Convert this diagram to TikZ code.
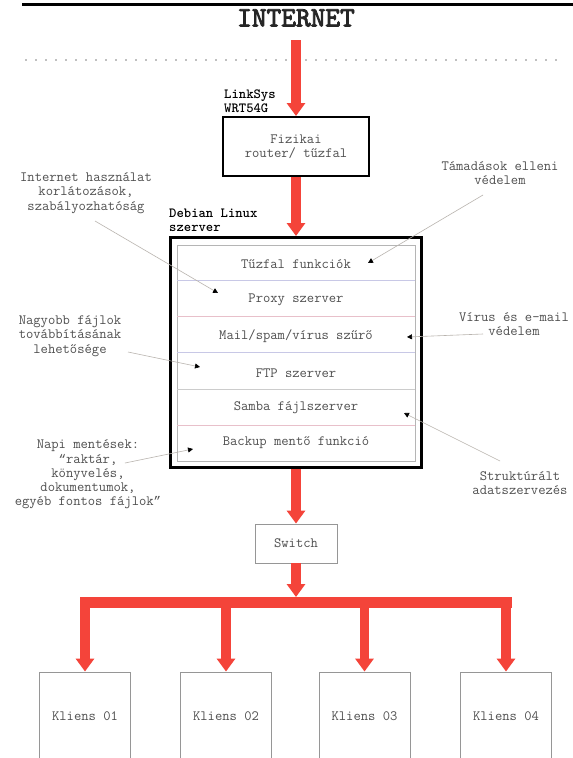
\documentclass[tikz,border=0pt]{standalone}
\usepackage{fontspec}
\newfontface\titlefont{lmmono10-regular.otf}[FakeBold=3]
\newfontfamily\qfont{Liberation Mono}
\usetikzlibrary{arrows.meta}
\definecolor{netred}{RGB}{244,68,58}
\definecolor{txtgray}{RGB}{80,80,80}
\definecolor{linegray}{RGB}{185,180,175}
\definecolor{sepblue}{RGB}{200,200,230}
\definecolor{seppink}{RGB}{232,192,202}
\definecolor{boxgray}{RGB}{150,150,150}
\newcommand{\oq}{{\qfont\fontsize{12.5}{14}\selectfont “}}
\newcommand{\cq}{{\qfont\fontsize{12.5}{14}\selectfont ”}}
\begin{document}
\begin{tikzpicture}[x=1pt,y=-1pt,
  redarrow/.style={draw=netred, line width=9.5pt, -{Triangle[length=13pt,width=18pt]}},
  redbus/.style={draw=netred, line width=11pt, line cap=rect},
  annot/.style={font=\ttfamily\fontsize{14.2}{14.5}\selectfont, text=txtgray, align=center, inner sep=0pt},
  boldlab/.style={font=\ttfamily\bfseries\fontsize{14}{14}\selectfont, text=black, align=left, inner sep=0pt},
  rowtext/.style={font=\ttfamily\fontsize{14.2}{14.5}\selectfont, text=txtgray, inner sep=0pt},
  note/.style={draw=linegray, line width=0.6pt, -{Triangle[length=5pt,width=5pt,color=black]}},
  kbox/.style={draw=boxgray, line width=0.9pt, minimum width=91pt, minimum height=88pt, rowtext},
]
\useasboundingbox (0,0) rectangle (573,758);
\clip (0,0) rectangle (573,758);
\fill[white] (0,0) rectangle (573,758);

% top rule
\draw[line width=3pt] (22,4.5) -- (573,4.5);

% title and dotted border
\node[font=\titlefont\fontsize{28}{28}\selectfont, text=black!85, inner sep=0pt] (internet) at (296,18) {INTERNET};
\draw[draw=gray, line width=1.8pt, line cap=round, dash pattern=on 0pt off 10pt] (26,60) -- (565,60);

% router
\node[boldlab, anchor=west] (linksys) at (224,101) {LinkSys\\WRT54G};
\node[draw=black, line width=2pt, minimum width=146pt, minimum height=59pt, rowtext, align=center] (router) at (296,146.5) {Fizikai\\router/ tűzfal};

% server
\node[boldlab, anchor=west] (debian) at (169,220.5) {Debian Linux\\szerver};
\node[draw=black, line width=3pt, minimum width=251pt, minimum height=230pt] (server) at (296,352.5) {};
\draw[draw=boxgray!70, line width=0.8pt] (177,245) rectangle (415,461);
\draw[sepblue, line width=0.6pt] (177,280) -- (415,280);
\draw[seppink, line width=0.6pt] (177,316.5) -- (415,316.5);
\draw[sepblue, line width=0.6pt] (177,352.5) -- (415,352.5);
\draw[gray!40, line width=0.6pt] (177,389) -- (415,389);
\draw[seppink, line width=0.6pt] (177,425) -- (415,425);

\node[rowtext] (r1) at (296,264) {Tűzfal funkciók};
\node[rowtext] (r2) at (296,300) {Proxy szerver};
\node[rowtext] (r3) at (296,336) {Mail/spam/vírus szűrő};
\node[rowtext] (r4) at (296,373) {FTP szerver};
\node[rowtext] (r5) at (296,408) {Samba fájlszerver};
\node[rowtext] (r6) at (296,443) {Backup mentő funkció};

% annotations
\node[annot] (a1) at (86,193) {Internet használat\\korlátozások,\\szabályozhatóság};
\node[annot] (a2) at (500,173) {Támadások elleni\\védelem};
\node[annot] (a3) at (514,324) {Vírus és e-mail\\védelem};
\node[annot] (a4) at (70,336) {Nagyobb fájlok\\továbbításának\\lehetősége};
\node[annot] (a5) at (520,483) {Struktúrált\\adatszervezés};
\node[annot, font=\ttfamily\fontsize{14.2}{14.25}\selectfont] (a6) at (88,474.5) {Napi mentések:\\\oq raktár,\\könyvelés,\\dokumentumok,\\egyéb fontos fájlok\cq};

\coordinate (s1) at (95,221);  \coordinate (t1) at (218,293);
\coordinate (s2) at (483,195); \coordinate (t2) at (368,263);
\coordinate (s3) at (483,334); \coordinate (t3) at (407,337);
\coordinate (s4) at (128,352); \coordinate (t4) at (200,367);
\coordinate (s5) at (500,461); \coordinate (t5) at (404,413);
\coordinate (s6) at (125,463); \coordinate (t6) at (193,449);
\draw[note] (s1) -- (t1);
\draw[note] (s2) -- (t2);
\draw[note] (s3) -- (t3);
\draw[note] (s4) -- (t4);
\draw[note] (s5) -- (t5);
\draw[note] (s6) -- (t6);

% switch and clients
\node[draw=boxgray, line width=0.9pt, minimum width=82pt, minimum height=39pt, rowtext] (switch) at (296,543.5) {Switch};
\node[kbox] (k1) at (85,716) {Kliens 01};
\node[kbox] (k2) at (226,716) {Kliens 02};
\node[kbox] (k3) at (364.5,716) {Kliens 03};
\node[kbox] (k4) at (506,716) {Kliens 04};

% red links
\draw[redarrow] ([yshift=-22pt]internet.center) -- (router.north);
\draw[redarrow] (router.south) -- (server.north);
\draw[redarrow] (server.south) -- (switch.north);
\coordinate (bus) at (296,602.5);
\coordinate (bustop) at (296,597);
\draw[redarrow] (switch.south) -- (bustop);
\draw[redbus] (k1.north |- bus) -- (k4.north |- bus);
\draw[redarrow] (k1.north |- bus) -- (k1.north);
\draw[redarrow] (k2.north |- bus) -- (k2.north);
\draw[redarrow] (k3.north |- bus) -- (k3.north);
\draw[redarrow] (k4.north |- bus) -- (k4.north);
\end{tikzpicture}
\end{document}
